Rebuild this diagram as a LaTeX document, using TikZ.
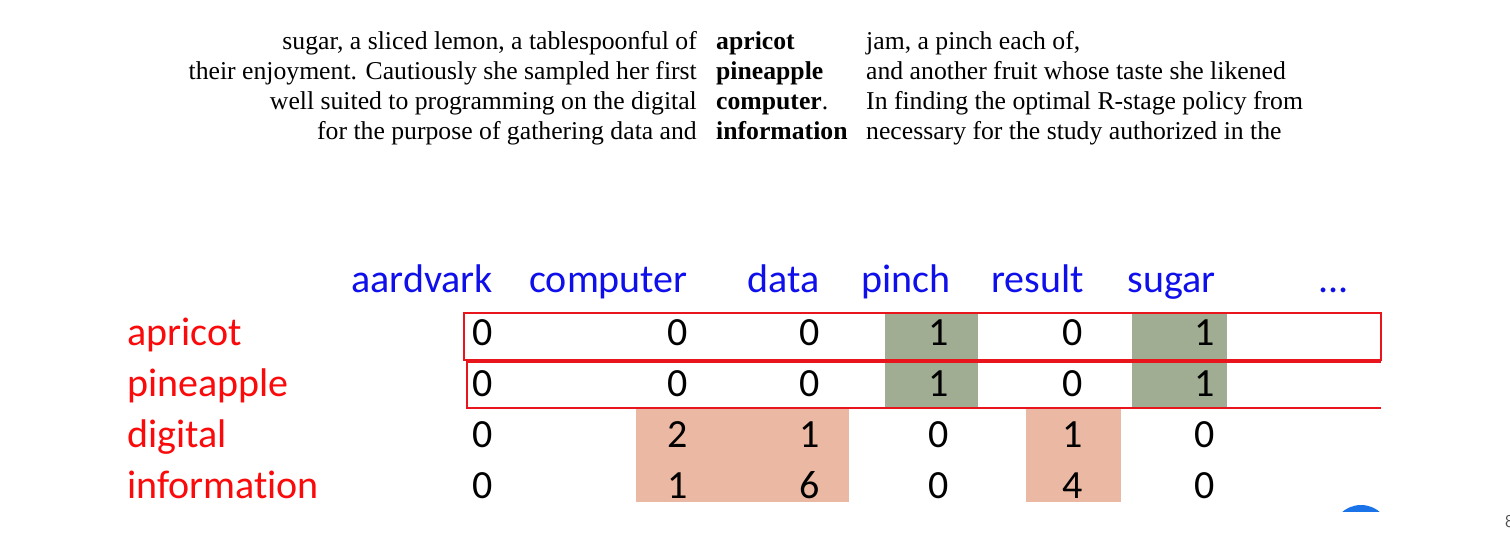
\documentclass[tikz,border=0pt]{standalone}
\usepackage{fontspec}
\setmainfont{Liberation Serif}
\newfontfamily\calib[Ligatures={NoCommon}]{Carlito}
\definecolor{lblred}{RGB}{250,10,10}
\definecolor{hdrblue}{RGB}{15,15,235}
\definecolor{boxred}{RGB}{232,22,28}
\definecolor{cellgreen}{RGB}{161,173,147}
\definecolor{cellpink}{RGB}{235,185,163}
\definecolor{uiblue}{RGB}{26,115,232}
\tikzset{
  ctxl/.style={anchor=base east, inner sep=0pt, font=\fontsize{25.7}{30}\selectfont},
  ctxm/.style={anchor=base west, inner sep=0pt, font=\fontsize{25.7}{30}\selectfont\bfseries},
  ctxr/.style={anchor=base west, inner sep=0pt, font=\fontsize{25.7}{30}\selectfont},
  hdr/.style={anchor=base east, inner sep=0pt, text=hdrblue, font=\calib\fontsize{40}{48}\selectfont},
  rowlbl/.style={anchor=base west, inner sep=0pt, text=lblred, font=\calib\fontsize{40}{48}\selectfont},
  num/.style={anchor=base east, inner sep=0pt, font=\calib\fontsize{40}{48}\selectfont},
  rowbox/.style={draw=boxred, line width=2pt},
}
\begin{document}
\begin{tikzpicture}[x=1pt,y=-1pt]
\useasboundingbox (0,0) rectangle (1510,538);
% context lines
\node[ctxl] (l1) at (697,49) {sugar, a sliced lemon, a tablespoonful of};
\node[ctxm] (m1) at (716,49) {apricot};
\node[ctxr] (r1) at (866,49) {jam, a pinch each of,};
\node[ctxl] (l2) at (697,79) {their enjoyment. Cautiously she sampled her first};
\node[ctxm] (m2) at (716,79) {pineapple};
\node[ctxr] (r2) at (866,79) {and another fruit whose taste she likened};
\node[ctxl] (l3) at (697,109) {well suited to programming on the digital};
\node[ctxm] (m3) at (716,109) {computer\textmd{.}};
\node[ctxr] (r3) at (866,109) {In finding the optimal R-stage policy from};
\node[ctxl] (l4) at (697,139) {for the purpose of gathering data and};
\node[ctxm] (m4) at (716,139) {information};
\node[ctxr] (r4) at (866,139) {necessary for the study authorized in the};
% shaded cells
\fill[cellgreen] (885,313) rectangle (978,408);
\fill[cellgreen] (1132,313) rectangle (1227,408);
\fill[cellpink] (636,408) rectangle (849,502);
\fill[cellpink] (1026,408) rectangle (1121,502);
% row boxes
\draw[rowbox] (464,313) rectangle (1381,360);
\draw[rowbox] (1381,362) -- (467,362) -- (467,408) -- (1381,408);
% header
\node[hdr] (h1) at (493,292) {aardvark};
\node[hdr] (h2) at (688,292) {computer};
\node[hdr] (h3) at (820,292) {data};
\node[hdr] (h4) at (951,292) {pinch};
\node[hdr] (h5) at (1084,292) {result};
\node[hdr] (h6) at (1216,292) {sugar};
\node[hdr] (h7) at (1349,292) {...};
% row labels
\node[rowlbl] (w1) at (127,345) {apricot};
\node[rowlbl] (w2) at (127,396) {pineapple};
\node[rowlbl] (w3) at (127,447) {digital};
\node[rowlbl] (w4) at (127,498) {information};
% numbers
\foreach \r/\y/\a/\b/\c/\d/\e/\f in {1/345/0/0/0/1/0/1, 2/396/0/0/0/1/0/1, 3/447/0/2/1/0/1/0, 4/498/0/1/6/0/4/0}{
  \node[num] (c\r a) at (493,\y) {\a};
  \node[num] (c\r b) at (688,\y) {\b};
  \node[num] (c\r c) at (820,\y) {\c};
  \node[num] (c\r d) at (949,\y) {\d};
  \node[num] (c\r e) at (1083,\y) {\e};
  \node[num] (c\r f) at (1215,\y) {\f};
}
% UI fragments
\begin{scope}
\clip (1320,495) rectangle (1400,511);
\fill[uiblue] (1361,534) circle (29);
\end{scope}
\node[anchor=base west, inner sep=0pt, text=black!70, font=\fontsize{18}{20}\selectfont\sffamily] (pg) at (1505,527) {8};
\end{tikzpicture}
\end{document}
